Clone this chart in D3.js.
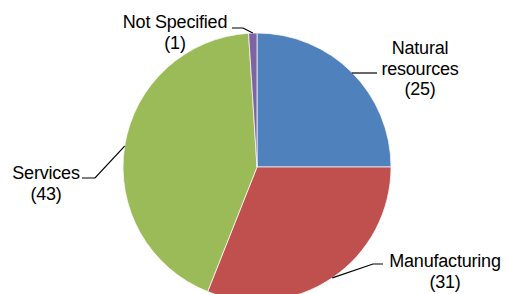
<!DOCTYPE html>
<html>
<head>
<style>
  body { margin: 0; background: white; }
  .lbl { font: 18px "Liberation Sans", Arial, sans-serif; fill: #000; letter-spacing: -0.2px; }
  .leader { fill: none; stroke: #000; stroke-width: 1.2px; }
</style>
</head>
<body>
<svg width="507" height="294"></svg>
<script src="https://cdn.jsdelivr.net/npm/d3@7"></script>
<script>
var categories = ["Natural resources", "Manufacturing", "Services", "Not Specified"];
var values = [25, 31, 43, 1];
var labelLines = [["Natural", "resources", "(25)"], ["Manufacturing", "(31)"], ["Services", "(43)"], ["Not Specified", "(1)"]];
var colors = ["#4F81BD", "#C0504D", "#9BBB59", "#8064A2"];

// label layout: text centre x, first baseline y, elbow point, end of leader
var labelPos = [
  {x: 420, y: 54, elbow: null, end: [377, 73]},
  {x: 445, y: 267, elbow: [373, 264], end: [383, 264]},
  {x: 46, y: 179, elbow: [95, 178], end: [82, 178]},
  {x: 175, y: 28, elbow: [243, 28], end: [232, 28]}
];

var svg = d3.select("svg"),
    cx = 257, cy = 167, r = 134;

var data = categories.map(function(c, i) { return {name: c, value: values[i], i: i}; });

var pie = d3.pie().sort(null).value(function(d) { return d.value; });
var arc = d3.arc().innerRadius(0).outerRadius(r);

var g = svg.append("g").attr("transform", "translate(" + cx + "," + cy + ")");

var arcs = pie(data);

g.selectAll("path.slice")
  .data(arcs)
  .enter().append("path")
    .attr("class", "slice")
    .attr("d", arc)
    .attr("fill", function(d) { return colors[d.data.i]; })
    .attr("stroke", "#fff")
    .attr("stroke-width", 0.7);

// leader lines from slice edge at mid angle
svg.selectAll("path.leader")
  .data(arcs)
  .enter().append("path")
    .attr("class", "leader")
    .attr("d", function(d) {
      var a = (d.startAngle + d.endAngle) / 2;
      var p0 = [cx + r * Math.sin(a), cy - r * Math.cos(a)];
      var lp = labelPos[d.data.i];
      var pts = [p0];
      if (lp.elbow) pts.push(lp.elbow);
      else pts[0] = [p0[0], lp.end[1]];
      pts.push(lp.end);
      return d3.line()(pts);
    });

var labels = svg.selectAll("text.lbl")
  .data(data)
  .enter().append("text")
    .attr("class", "lbl")
    .attr("text-anchor", "middle");

labels.each(function(d) {
  var lp = labelPos[d.i];
  d3.select(this).selectAll("tspan")
    .data(labelLines[d.i])
    .enter().append("tspan")
      .attr("x", lp.x)
      .attr("y", function(t, j) { return lp.y + j * 20.5; })
      .text(function(t) { return t; });
});
</script>
</body>
</html>
